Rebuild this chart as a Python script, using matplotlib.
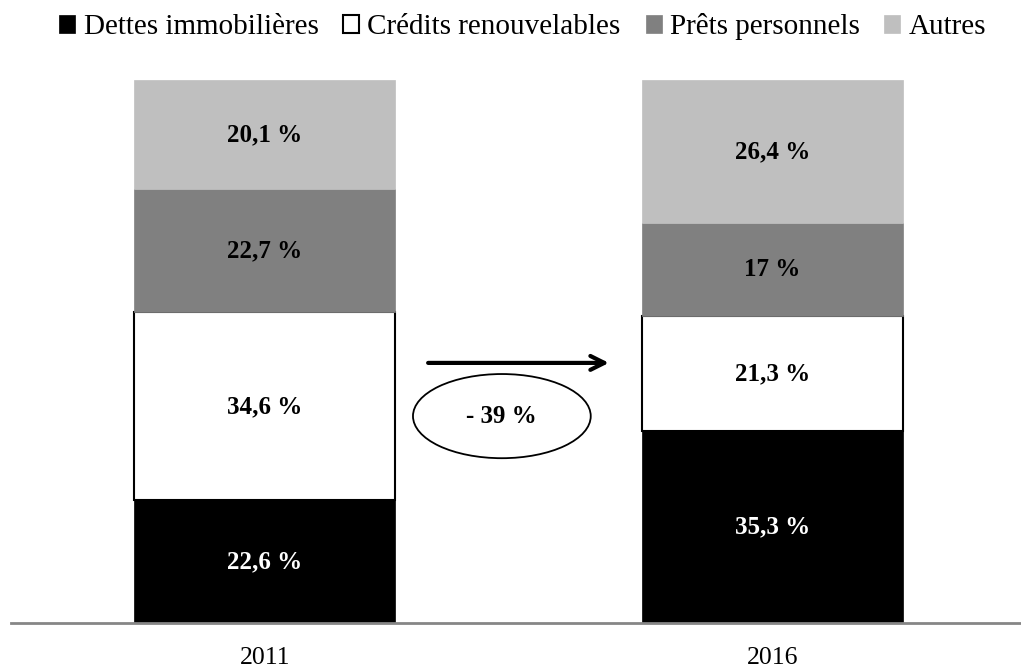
import matplotlib.pyplot as plt
from matplotlib.patches import Ellipse

# donnees
annees = ['2011', '2016']
categories = ['Dettes immobilières', 'Crédits renouvelables', 'Prêts personnels', 'Autres']
dettes = [22.6, 35.3]
credits = [34.6, 21.3]
prets = [22.7, 17]
autres = [20.1, 26.4]
evolution = '- 39 %'

couleurs = ['#000000', '#ffffff', '#808080', '#bfbfbf']
bords = ['#000000', '#000000', '#808080', '#bfbfbf']
couleurs_txt = ['white', 'black', 'black', 'black']

plt.rcParams['font.family'] = ['Liberation Serif', 'DejaVu Serif']

fig = plt.figure(figsize=(10.21, 6.68), dpi=100)
ax = fig.add_axes([11/1021, 45/668, 1010/1021, 543/668])

x = list(range(len(annees)))
bas = [0, 0]
series = [dettes, credits, prets, autres]
for i, vals in enumerate(series):
    lw = 1.5 if i == 1 else 0.5
    bars = ax.bar(x, vals, width=0.514, bottom=bas, color=couleurs[i],
                  edgecolor=bords[i], linewidth=lw, label=categories[i], zorder=2)
    labels = [('%g' % v).replace('.', ',') + ' %' for v in vals]
    ax.bar_label(bars, labels=labels, label_type='center', color=couleurs_txt[i],
                 fontsize=18, fontweight='bold')
    bas = [b + v for b, v in zip(bas, vals)]

ax.set_xlim(-0.5, 1.49)
ax.set_ylim(0, 100)
for s in ['top', 'left', 'right']:
    ax.spines[s].set_visible(False)
ax.spines['bottom'].set_color('#868686')
ax.spines['bottom'].set_linewidth(2)
ax.spines['bottom'].set_zorder(3)
ax.set_yticks([])
ax.set_xticks(x)
ax.set_xticklabels(annees, fontsize=18.5)
ax.tick_params(axis='x', length=0, pad=17)

# fleche et ellipse de l'evolution
ax.annotate('', xy=(0.592, 0.479), xytext=(0.413, 0.479), xycoords='axes fraction',
            arrowprops=dict(arrowstyle='->,head_length=1.0,head_width=0.5', lw=3, color='black',
                            shrinkA=0, shrinkB=0))
ax.add_patch(Ellipse((0.486, 0.381), 0.176, 0.155, transform=ax.transAxes,
                     facecolor='white', edgecolor='black', linewidth=1.3, zorder=4))
ax.text(0.486, 0.381, evolution, transform=ax.transAxes, ha='center', va='center',
        fontsize=18, fontweight='bold', zorder=5)

fig.legend(loc='center', bbox_to_anchor=(0.512, 1 - 27/668), ncol=4, frameon=False,
           fontsize=21, handlelength=0.55, handleheight=0.55, handletextpad=0.28,
           columnspacing=0.85, borderpad=0, borderaxespad=0)

plt.savefig('out.png', dpi=100)
